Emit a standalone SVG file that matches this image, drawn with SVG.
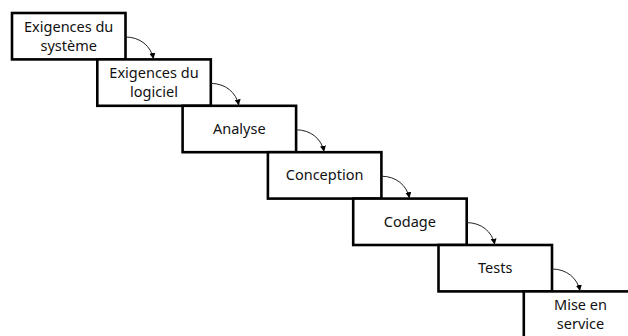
<svg xmlns="http://www.w3.org/2000/svg" width="628" height="336" viewBox="0 0 628 336">
<style>
.box{fill:#fff;stroke:#000;stroke-width:2.6}
.lbl{font-family:"Noto Sans","Liberation Sans",Arial,sans-serif;font-size:14.5px;fill:#111;text-anchor:middle}
.arr{fill:none;stroke:#222;stroke-width:1}
</style>
<defs>
<marker id="ah" markerUnits="userSpaceOnUse" markerWidth="7" markerHeight="7" refX="6" refY="3" orient="auto">
<path d="M0,0 L6,3 L0,6 z" fill="#000"/>
</marker>
</defs>
<rect width="628" height="336" fill="#fff"/>
<g id="n1"><rect class="box" x="12" y="13" width="113.5" height="46.4"/><text class="lbl" x="68.7" y="32">Exigences du</text><text class="lbl" x="68.7" y="51">système</text></g>
<g id="n2"><rect class="box" x="97.3" y="59.4" width="113.5" height="46.4"/><text class="lbl" x="154" y="78.4">Exigences du</text><text class="lbl" x="154" y="97.4">logiciel</text></g>
<g id="n3"><rect class="box" x="182.6" y="105.8" width="113.5" height="46.4"/><text class="lbl" x="239.3" y="133.7">Analyse</text></g>
<g id="n4"><rect class="box" x="267.9" y="152.2" width="113.5" height="46.4"/><text class="lbl" x="324.6" y="180.1">Conception</text></g>
<g id="n5"><rect class="box" x="353.2" y="198.6" width="113.5" height="46.4"/><text class="lbl" x="409.9" y="226.5">Codage</text></g>
<g id="n6"><rect class="box" x="438.5" y="245" width="113.5" height="46.4"/><text class="lbl" x="495.2" y="272.9">Tests</text></g>
<g id="n7"><rect class="box" x="523.8" y="291.4" width="113.5" height="46.4"/><text class="lbl" x="580.5" y="310.4">Mise en</text><text class="lbl" x="580.5" y="329.4">service</text></g>
<g id="connectors">
<path class="arr" marker-end="url(#ah)" d="M125.5,37 C140,37 151,46 153.5,59"/>
<path class="arr" marker-end="url(#ah)" d="M210.8,83.4 C225.3,83.4 236.3,92.4 238.8,105.4"/>
<path class="arr" marker-end="url(#ah)" d="M296.1,129.8 C310.6,129.8 321.6,138.8 324.1,151.8"/>
<path class="arr" marker-end="url(#ah)" d="M381.4,176.2 C395.9,176.2 406.9,185.2 409.4,198.2"/>
<path class="arr" marker-end="url(#ah)" d="M466.7,222.6 C481.2,222.6 492.2,231.6 494.7,244.6"/>
<path class="arr" marker-end="url(#ah)" d="M552,269 C566.5,269 577.5,278 580,291"/>
</g>
</svg>
